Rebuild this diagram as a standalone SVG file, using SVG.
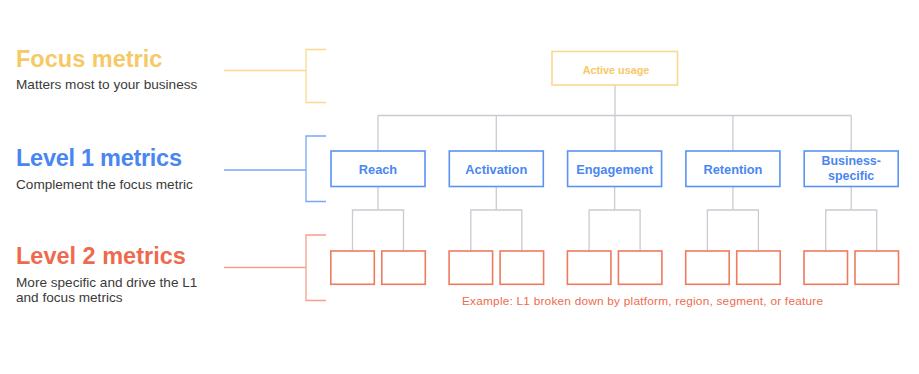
<svg xmlns="http://www.w3.org/2000/svg" width="919" height="374" viewBox="0 0 919 374">
<style>
text{font-family:"Liberation Sans",Arial,sans-serif}
.title{font-size:23.5px;font-weight:bold}
.sub{font-size:13.6px;fill:#3a3a3a}
.yl{fill:#F6C966}
.bl{fill:#4A86F2}
.rd{fill:#EE6A4E}
.brY{fill:none;stroke:#F9D98F;stroke-width:1.3}
.brB{fill:none;stroke:#7AA6F5;stroke-width:1.3}
.brR{fill:none;stroke:#F3A08C;stroke-width:1.3}
.conn{fill:none;stroke:#CACAD2;stroke-width:1.3}
.fbox{fill:#fff;stroke:#F9D98F;stroke-width:1.6}
.l1box{fill:#fff;stroke:#5B93F3;stroke-width:1.6}
.l2box{fill:#fff;stroke:#EF7A5E;stroke-width:1.6}
.l1t{font-size:12.8px;font-weight:bold;fill:#4A86F2;text-anchor:middle}
.l1s{font-size:12.4px;font-weight:bold;fill:#4A86F2;text-anchor:middle}
.ft{font-size:10.8px;font-weight:bold;fill:#F6C966;text-anchor:middle}
.ex{font-size:11.8px;fill:#EE6A4E}
</style>
<rect width="919" height="374" fill="#fff"/>
<g id="legend">
<text class="title yl" x="16" y="67">Focus metric</text>
<text class="sub" x="16" y="89">Matters most to your business</text>
<text class="title bl" x="16" y="166" textLength="166">Level 1 metrics</text>
<text class="sub" x="16" y="189">Complement the focus metric</text>
<text class="title rd" x="16" y="264">Level 2 metrics</text>
<text class="sub" x="16" y="287">More specific and drive the L1</text>
<text class="sub" x="16" y="302">and focus metrics</text>
<path class="brY" d="M224 70.5H306M326 49.5H306V102.5H326"/>
<path class="brB" d="M224 170H306M326 136H306V201.5H326"/>
<path class="brR" d="M224 267.5H306M326 235H306V300.5H326"/>
</g>
<g id="connectors">
<path class="conn" d="M615 85V151M378 115.5H851.2M378 115.5V151M496.3 115.5V151M732.9 115.5V151M851.2 115.5V151"/>
<path class="conn" d="M378 186.5V210M352.5 251V210H403.5V251"/>
<path class="conn" d="M496.3 186.5V210M470.8 251V210H521.8V251"/>
<path class="conn" d="M614.6 186.5V210M589.1 251V210H640.1V251"/>
<path class="conn" d="M732.9 186.5V210M707.4 251V210H758.4V251"/>
<path class="conn" d="M851.2 186.5V210M825.7 251V210H876.7V251"/>
</g>
<g id="focus">
<rect class="fbox" x="552" y="51.5" width="125.5" height="33.5"/>
<text class="ft" x="616" y="73.5">Active usage</text>
</g>
<g id="reach">
<rect class="l1box" x="331" y="151" width="94" height="35.5"/>
<text class="l1t" x="378" y="173.5">Reach</text>
</g>
<g id="activation">
<rect class="l1box" x="449.3" y="151" width="94" height="35.5"/>
<text class="l1t" x="496.3" y="173.5">Activation</text>
</g>
<g id="engagement">
<rect class="l1box" x="567.6" y="151" width="94" height="35.5"/>
<text class="l1t" x="614.6" y="173.5">Engagement</text>
</g>
<g id="retention">
<rect class="l1box" x="685.9" y="151" width="94" height="35.5"/>
<text class="l1t" x="732.9" y="173.5">Retention</text>
</g>
<g id="business">
<rect class="l1box" x="804.2" y="151" width="94" height="35.5"/>
<text class="l1s" x="851.2" y="165">Business-</text>
<text class="l1s" x="851.2" y="179.5">specific</text>
</g>
<g id="l2-reach">
<rect class="l2box" x="330.8" y="251" width="43.5" height="33.3"/>
<rect class="l2box" x="381.8" y="251" width="43.5" height="33.3"/>
</g>
<g id="l2-activation">
<rect class="l2box" x="449.1" y="251" width="43.5" height="33.3"/>
<rect class="l2box" x="500.1" y="251" width="43.5" height="33.3"/>
</g>
<g id="l2-engagement">
<rect class="l2box" x="567.4" y="251" width="43.5" height="33.3"/>
<rect class="l2box" x="618.4" y="251" width="43.5" height="33.3"/>
</g>
<g id="l2-retention">
<rect class="l2box" x="685.7" y="251" width="43.5" height="33.3"/>
<rect class="l2box" x="736.7" y="251" width="43.5" height="33.3"/>
</g>
<g id="l2-business">
<rect class="l2box" x="804" y="251" width="43.5" height="33.3"/>
<rect class="l2box" x="855" y="251" width="43.5" height="33.3"/>
</g>
<g id="example">
<text class="ex" x="462" y="305" textLength="361">Example: L1 broken down by platform, region, segment, or feature</text>
</g>
</svg>
